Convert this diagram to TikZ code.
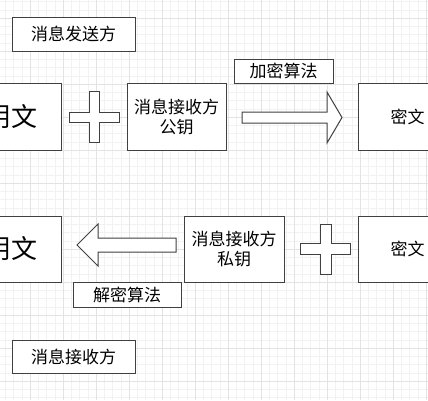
\documentclass[tikz,border=0pt]{standalone}
\usepackage{fontspec}
\newfontfamily\cjk{Noto Sans CJK SC}
\begin{document}
\begin{tikzpicture}[x=1pt,y=-1pt,
  box/.style={draw=black!75,line width=1pt,fill=white,rectangle,inner sep=0pt,font=\cjk\fontsize{17}{21}\selectfont,align=center},
  bigbox/.style={box,font=\cjk\fontsize{26}{28}\selectfont},
  blockshape/.style={draw=black!75,line width=1pt,fill=white,line join=miter},
  minorgrid/.style={draw=black!5,line width=0.5pt},
  majorgrid/.style={draw=black!11,line width=0.6pt}]
\useasboundingbox (0,0) rectangle (428,400);
\fill[white] (0,0) rectangle (428,400);
% grid
\begin{scope}
\clip (0,0) rectangle (428,400);
\foreach \i in {-4,...,52} {
  \draw[minorgrid] ({30+8.25*\i},0) -- ({30+8.25*\i},400);
  \draw[minorgrid] (0,{18+8.25*\i}) -- (428,{18+8.25*\i});
}
\foreach \i in {-1,...,13} {
  \draw[majorgrid] ({30+33*\i},0) -- ({30+33*\i},400);
  \draw[majorgrid] (0,{18+33*\i}) -- (428,{18+33*\i});
}
\end{scope}
% top row
\node[box,minimum width=123pt,minimum height=34pt] (sender) at (73.5,34) {消息发送方};
\node[bigbox,minimum width=100pt,minimum height=67pt] (mingTop) at (11,116.5) {明文};
\node[box,minimum width=99pt,minimum height=67pt] (pubkey) at (176.5,116.5) {消息接收方\\[-1pt]公钥};
\node[box,minimum width=99pt,minimum height=24pt] (enc) at (283.5,71) {加密算法};
\node[box,minimum width=99pt,minimum height=67pt] (miTop) at (407.5,116.5) {密文};
% plus top
\draw[blockshape] (89,91) -- (99,91) -- (99,112) -- (119,112) -- (119,122) -- (99,122) -- (99,142) -- (89,142) -- (89,122) -- (69,122) -- (69,112) -- (89,112) -- cycle;
% arrow right
\draw[blockshape] (242,112) -- (327,112) -- (327,92) -- (342,117.5) -- (327,143) -- (327,123) -- (242,123) -- cycle;
% bottom row
\node[bigbox,minimum width=100pt,minimum height=66pt] (mingBot) at (11,249) {明文};
\node[box,minimum width=100pt,minimum height=66pt] (privkey) at (234,249) {消息接收方\\[-1pt]私钥};
\node[box,minimum width=99pt,minimum height=66pt] (miBot) at (407.5,249) {密文};
\node[box,minimum width=108pt,minimum height=25pt] (dec) at (127,294.5) {解密算法};
\node[box,minimum width=123pt,minimum height=33pt] (receiver) at (73.5,356.5) {消息接收方};
% plus bottom
\draw[blockshape] (320,224) -- (331,224) -- (331,243) -- (350,243) -- (350,254) -- (331,254) -- (331,274) -- (320,274) -- (320,254) -- (300,254) -- (300,243) -- (320,243) -- cycle;
% arrow left
\draw[blockshape] (176,238) -- (98,238) -- (98,224) -- (77,245) -- (98,266) -- (98,252) -- (176,252) -- cycle;
\end{tikzpicture}
\end{document}
